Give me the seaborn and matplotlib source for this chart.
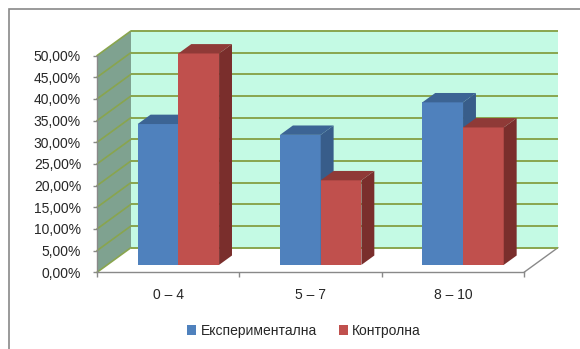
import matplotlib
matplotlib.use("Agg")
import matplotlib.pyplot as plt
from matplotlib.patches import Polygon, Patch, Rectangle
import seaborn as sns
import pandas as pd

categories = ["0 – 4", "5 – 7", "8 – 10"]
groups = ["Експериментална", "Контролна"]
experimental = [32.5, 30.0, 37.5]
control = [48.78, 19.51, 31.71]
y_ticks = [0, 5, 10, 15, 20, 25, 30, 35, 40, 45, 50]

front_colors = ["#4f81bd", "#c0504d"]
side_colors = ["#385d8a", "#7a2e2c"]
top_colors = ["#3c6494", "#8f3a37"]
wall_color = "#c4fae4"
side_wall_color = "#7fa290"
grid_color = "#89a54e"
axis_gray = "#898989"

sns.set_style("white")
plt.rcParams["font.family"] = ["Liberation Sans", "DejaVu Sans"]

df = pd.DataFrame({
    "cat": categories * 2,
    "group": [groups[0]] * 3 + [groups[1]] * 3,
    "value": experimental + control,
})

W, H = 580, 349
fig = plt.figure(figsize=(W / 100, H / 100), dpi=100)
ax = fig.add_axes([97 / W, 1 - 272.3 / H, 427 / W, 216.7 / H])

sns.barplot(data=df, x="cat", y="value", hue="group", order=categories,
            hue_order=groups, palette=front_colors, width=0.572, gap=0,
            saturation=1, linewidth=0, legend=False, errorbar=None, ax=ax)
ax.set_xlim(-0.5, 2.5)
ax.set_ylim(0, 50)
ax.set_facecolor("none")

# depth of the fake 3d box, in data units
DX = 34 / (427 / 3)
DY = 24.7 / (216.7 / 50)
F0, F1 = 0.30, 0.68

# walls
x_l, x_r = -0.5, 2.5
ax.add_patch(Polygon([(x_l + DX, DY), (x_r + DX, DY), (x_r + DX, 50 + DY), (x_l + DX, 50 + DY)],
                     closed=True, facecolor=wall_color, edgecolor="none", zorder=0, clip_on=False))
ax.add_patch(Polygon([(x_l, 0), (x_l + DX, DY), (x_l + DX, 50 + DY), (x_l, 50)],
                     closed=True, facecolor=side_wall_color, edgecolor="none", zorder=0.5, clip_on=False))
ax.add_patch(Polygon([(x_l, 0), (x_r, 0), (x_r + DX, DY), (x_l + DX, DY)],
                     closed=True, facecolor="white", edgecolor="none", zorder=0.6, clip_on=False))
ax.plot([x_r, x_r + DX], [0, DY], color=axis_gray, lw=1, zorder=0.7, clip_on=False)

for v in y_ticks:
    ax.plot([x_l + DX, x_r + DX], [v + DY, v + DY], color=grid_color, lw=1.4, zorder=1, clip_on=False,
            solid_capstyle="butt")
    ax.plot([x_l, x_l + DX], [v, v + DY], color=grid_color, lw=1.2, zorder=1, clip_on=False)

# bars -> 3d blocks
for gi, cont in enumerate(ax.containers):
    for p in cont:
        x0, w, h = p.get_x(), p.get_width(), p.get_height()
        xn = x0 + F0 * DX
        y0 = F0 * DY
        z = 5 + x0
        p.set_x(xn)
        p.set_y(y0)
        p.set_zorder(z)
        p.set_clip_on(False)
        x1 = xn + w
        ddx, ddy = (F1 - F0) * DX, (F1 - F0) * DY
        ax.add_patch(Polygon([(x1, y0), (x1 + ddx, y0 + ddy), (x1 + ddx, y0 + h + ddy), (x1, y0 + h)],
                             closed=True, facecolor=side_colors[gi], edgecolor="none",
                             zorder=z + 0.01, clip_on=False))
        ax.add_patch(Polygon([(xn, y0 + h), (x1, y0 + h), (x1 + ddx, y0 + h + ddy), (xn + ddx, y0 + h + ddy)],
                             closed=True, facecolor=top_colors[gi], edgecolor="none",
                             zorder=z + 0.01, clip_on=False))

# axes styling
for s in ["top", "right"]:
    ax.spines[s].set_visible(False)
for s in ["left", "bottom"]:
    ax.spines[s].set_color(axis_gray)
    ax.spines[s].set_linewidth(1)
    ax.spines[s].set_zorder(2)

ax.set_yticks(y_ticks)
ax.set_yticklabels([f"{v:.2f}%".replace(".", ",") for v in y_ticks])
ax.set_xticks(range(len(categories)))
ax.set_xticklabels(categories)
ax.set_xticks([-0.5, 0.5, 1.5, 2.5], minor=True)
ax.tick_params(axis="y", left=True, length=3, width=1, color=axis_gray, pad=8.5,
               labelsize=10, labelcolor="#262626")
ax.tick_params(axis="x", which="major", bottom=True, length=0, pad=11, labelsize=10, labelcolor="#262626")
ax.tick_params(axis="x", which="minor", bottom=True, length=3.5, width=1, color=axis_gray)
ax.set_xlabel("")
ax.set_ylabel("")

handles = [Patch(facecolor=c, edgecolor="none", label=g) for c, g in zip(front_colors, groups)]
fig.legend(handles=handles, loc="center", bbox_to_anchor=(304 / W, 1 - 331 / H), ncol=2,
           frameon=False, fontsize=10, handlelength=0.65, handleheight=0.65,
           handletextpad=0.3, columnspacing=1.6, labelcolor="#262626")

fig.add_artist(Rectangle((9 / W, -0.1), 1.2, 1.1 - 9 / H, transform=fig.transFigure,
                         facecolor="none", edgecolor=axis_gray, lw=1.2))

fig.savefig("out.png", dpi=100)
